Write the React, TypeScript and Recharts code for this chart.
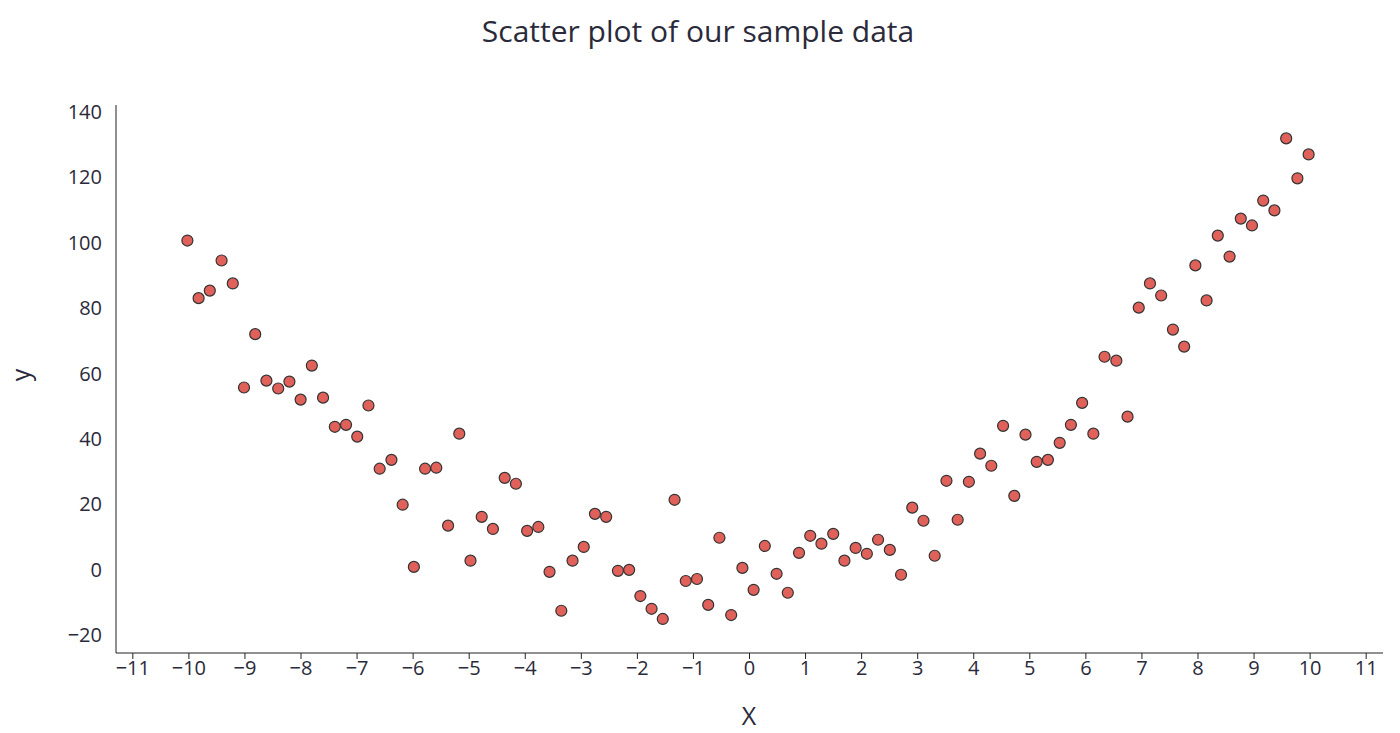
import { ScatterChart, Scatter, XAxis, YAxis } from "recharts";

const xValues = [
  -10, -9.8, -9.6, -9.39, -9.19, -8.99, -8.79, -8.59, -8.38, -8.18,
  -7.98, -7.78, -7.58, -7.37, -7.17, -6.97, -6.77, -6.57, -6.36, -6.16,
  -5.96, -5.76, -5.56, -5.35, -5.15, -4.95, -4.75, -4.55, -4.34, -4.14,
  -3.94, -3.74, -3.54, -3.33, -3.13, -2.93, -2.73, -2.53, -2.32, -2.12,
  -1.92, -1.72, -1.52, -1.31, -1.11, -0.91, -0.71, -0.51, -0.3, -0.1,
  0.1, 0.3, 0.51, 0.71, 0.91, 1.11, 1.31, 1.52, 1.72, 1.92,
  2.12, 2.32, 2.53, 2.73, 2.93, 3.13, 3.33, 3.54, 3.74, 3.94,
  4.14, 4.34, 4.55, 4.75, 4.95, 5.15, 5.35, 5.56, 5.76, 5.96,
  6.16, 6.36, 6.57, 6.77, 6.97, 7.17, 7.37, 7.58, 7.78, 7.98,
  8.18, 8.38, 8.59, 8.79, 8.99, 9.19, 9.39, 9.6, 9.8, 10,
];

const yValues = [
  100.6, 83, 85.3, 94.5, 87.5, 55.7, 72, 57.8, 55.4, 57.5,
  52, 62.4, 52.6, 43.7, 44.3, 40.7, 50.2, 30.9, 33.6, 19.9,
  0.9, 30.9, 31.2, 13.5, 41.6, 2.8, 16.2, 12.5, 28.1, 26.3,
  11.9, 13.1, -0.6, -12.5, 2.8, 7, 17.1, 16.2, -0.3, 0,
  -8, -11.9, -15, 21.4, -3.4, -2.8, -10.7, 9.8, -13.8, 0.6,
  -6.1, 7.3, -1.2, -7, 5.2, 10.4, 8, 11, 2.8, 6.7,
  4.9, 9.2, 6.1, -1.5, 19, 15, 4.3, 27.2, 15.3, 26.9,
  35.5, 31.8, 44, 22.6, 41.3, 33, 33.6, 38.8, 44.3, 51,
  41.6, 65.1, 63.9, 46.8, 80.1, 87.5, 83.8, 73.4, 68.2, 93,
  82.3, 102.1, 95.7, 107.3, 105.2, 112.8, 109.8, 131.8, 119.6, 126.9,
];

const xTicks = [-11, -10, -9, -8, -7, -6, -5, -4, -3, -2, -1, 0, 1, 2, 3, 4, 5, 6, 7, 8, 9, 10, 11];
const yTicks = [-20, 0, 20, 40, 60, 80, 100, 120, 140];

const data = xValues.map((x, i) => ({ x, y: yValues[i] }));

const FONT = '"Open Sans", "Noto Sans", sans-serif';
const TEXT = "#2a2a3a";
const fmt = (v: number) => String(v).replace("-", "\u2212");

export default function App() {
  return (
    <div style={{ position: "absolute", left: 0, top: 0, width: 1400, height: 733, background: "#fff", fontFamily: FONT }}>
      <div style={{ position: "absolute", top: 10, width: 1400, left: -2, textAlign: "center", fontSize: 30, color: TEXT }}>
        Scatter plot of our sample data
      </div>
      <div style={{ position: "absolute", left: 749, top: 698, transform: "translateX(-50%)", fontSize: 25, color: TEXT }}>
        X
      </div>
      <div style={{ position: "absolute", left: 20, top: 375, transform: "translate(-50%,-50%) rotate(-90deg)", fontSize: 25, color: TEXT }}>
        y
      </div>
      <ScatterChart width={1400} height={733} margin={{ top: 105, right: 17, bottom: 0, left: 56 }}>
        <XAxis
          type="number"
          dataKey="x"
          domain={[-11.3, 11.3]}
          ticks={xTicks}
          interval={0}
          tickFormatter={fmt}
          height={80}
          stroke="#222"
          tickSize={6}
          tick={{ fontSize: 20, fill: TEXT, fontFamily: FONT }}
        />
        <YAxis
          type="number"
          dataKey="y"
          domain={[-25.4, 142]}
          ticks={yTicks}
          interval={0}
          tickFormatter={fmt}
          width={60}
          stroke="#222"
          tickLine={false}
          tickMargin={8}
          tick={{ fontSize: 20, fill: TEXT, fontFamily: FONT }}
        />
        <Scatter
          data={data}
          isAnimationActive={false}
          shape={(p: any) => (
            <circle cx={p.cx - 1.5} cy={p.cy} r={5.5} fill="#e0605a" stroke="#333" strokeWidth={1.2} />
          )}
        />
      </ScatterChart>
    </div>
  );
}
